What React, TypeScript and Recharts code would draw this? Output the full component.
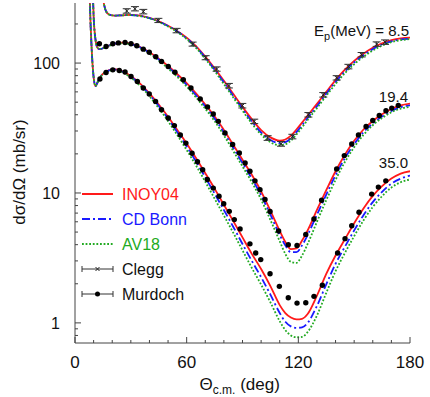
import React from 'react';
import { ComposedChart, Line, Scatter, ErrorBar, XAxis, YAxis } from 'recharts';

document.body.style.margin = '0';

const FONT = "'Liberation Sans', Arial, Helvetica, sans-serif";
const AXIS = '#444';
const RED = '#ff1a1a';
const BLUE = '#1a1aff';
const GREEN = '#22aa22';

// angle grid (deg) shared by the theory curves
const ANGLES = [7, 8, 9, 10, 11, 12, 13, 14, 15, 16, 17, 18, 20, 22, 25, 30, 35, 40, 45, 50, 55, 60, 65, 70, 75, 80, 85, 90, 95, 100, 105, 110, 113, 116, 119, 122, 125, 130, 135, 140, 145, 150, 155, 160, 165, 170, 175, 180];

// Ep = 8.5 MeV
const INOY_85 = [null, null, null, null, null, null, null, 650, 330, 268, 246, 238, 233, 232, 233, 235, 232, 223, 210, 194, 176, 157, 135, 112, 91, 73, 58, 46, 37, 30.5, 26.8, 25.3, 25.8, 27.6, 30.8, 34.8, 39.5, 48.5, 60, 74, 89, 104, 118, 131, 142, 150, 155, 157];
const CDB_85 = [null, null, null, null, null, null, null, 650, 330, 268, 246, 238, 233, 232, 233, 234, 231, 222, 209, 193, 175, 155, 133, 110, 89, 71, 56, 44.5, 35.5, 29.2, 25.6, 24.2, 24.6, 26.3, 29.4, 33.2, 37.8, 46.5, 58, 71.5, 86, 101, 115, 128, 139, 147, 152, 154];
const AV18_85 = [null, null, null, null, null, null, null, 650, 330, 268, 246, 238, 233, 232, 233, 234, 230, 221, 208, 191, 173, 153, 131, 108, 87, 69, 54.5, 43, 34.3, 28.2, 24.6, 23.3, 23.7, 25.3, 28.2, 32, 36.5, 45, 56, 69, 83.5, 98, 112, 125, 136, 145, 150, 153];

// Ep = 19.4 MeV
const INOY_194 = [null, null, 700, 230, 152, 132, 128, 128.5, 130, 132, 134, 136, 139, 141.5, 143.5, 141, 133, 121, 108, 95, 82, 70, 58.5, 48, 39, 30.5, 23.5, 18, 13.8, 10.3, 7.3, 5.1, 4.2, 3.7, 3.75, 4.3, 5.15, 7.4, 10.5, 14.7, 19.7, 25.2, 30.8, 35.8, 40.3, 44.3, 47.2, 48.7];
const CDB_194 = [null, null, 700, 230, 152, 132, 128, 128.5, 130, 132, 134, 136, 139, 141.5, 143, 140, 132, 120, 106.5, 93, 80, 68, 56.5, 46.3, 37.5, 29.2, 22.3, 17, 12.9, 9.6, 6.8, 4.75, 3.95, 3.5, 3.5, 3.95, 4.75, 6.8, 9.7, 13.7, 18.5, 23.8, 29.3, 34.3, 38.8, 42.8, 45.7, 47.2];
const AV18_194 = [null, null, 700, 230, 152, 132, 128, 128.5, 130, 131.5, 133, 135, 138, 140.5, 142, 139, 130.5, 118, 104.5, 91, 78, 66, 54.5, 44.5, 35.8, 27.8, 21.1, 16, 12.1, 8.9, 6.2, 4.25, 3.4, 2.95, 2.9, 3.3, 4.05, 6.0, 8.8, 12.6, 17.3, 22.5, 28, 33.2, 37.8, 41.8, 44.6, 46];

// Ep = 35.0 MeV
const INOY_350 = [1500, 290, 125, 78, 66.5, 70.5, 75.5, 79.5, 82.5, 84.8, 86.5, 87.8, 89.3, 89.5, 87.2, 79.5, 69.5, 58.5, 48, 38.6, 30.5, 24, 18.6, 14.2, 10.8, 8.1, 6.1, 4.55, 3.4, 2.6, 1.92, 1.37, 1.19, 1.1, 1.065, 1.075, 1.17, 1.62, 2.38, 3.3, 4.4, 5.85, 7.6, 9.5, 11.3, 12.9, 14.1, 14.7];
const CDB_350 = [1500, 290, 125, 78, 66.5, 70.5, 75.5, 79.5, 82.5, 84.5, 86.2, 87.4, 88.8, 89, 86.5, 78.5, 68.3, 57.2, 46.7, 37.3, 29.3, 22.8, 17.5, 13.2, 9.9, 7.4, 5.5, 4.05, 3.0, 2.25, 1.65, 1.19, 1.02, 0.94, 0.915, 0.925, 1.0, 1.35, 1.98, 2.85, 3.85, 5.15, 6.75, 8.5, 10.2, 11.8, 12.9, 13.6];
const AV18_350 = [1500, 290, 125, 78, 66.5, 70.3, 75, 79, 82, 84, 85.6, 86.8, 88, 88, 85.5, 77.2, 66.8, 55.6, 45, 35.7, 27.8, 21.4, 16.3, 12.2, 9.05, 6.7, 4.95, 3.62, 2.65, 1.97, 1.44, 1.03, 0.88, 0.8, 0.775, 0.78, 0.85, 1.14, 1.7, 2.5, 3.45, 4.65, 6.15, 7.8, 9.45, 11, 12.1, 12.7];

// Clegg, 8.5 MeV
const CLEGG_X = [27.8, 32.2, 36.7, 44.8, 54.6, 63.2, 70.2, 76.1, 82.7, 89.9, 96.3, 103.5, 110.7, 116.8, 125.4, 133.4, 140.6, 146.9, 154.0, 162.1, 166.6];
const CLEGG_Y = [252, 262, 249, 213, 178, 140, 110, 90, 67, 47, 35.6, 26.5, 23.9, 27.2, 40, 57, 77, 94, 116, 140, 145];
const CLEGG_ERR = [10, 10, 10, 8, 7, 5, 4, 3.5, 2.7, 1.9, 1.4, 1.1, 1.0, 1.1, 1.6, 2.3, 3, 3.8, 4.6, 5.6, 5.8];

// Murdoch, 19.4 MeV
const MUR194_X = [13.1, 16.7, 20.3, 23.3, 26.9, 30.1, 33.2, 36.7, 39.9, 43.4, 46.5, 50.1, 53.7, 58.2, 62.3, 67.3, 71.2, 74.3, 77.0, 80.6, 84.7, 88.3, 91.4, 94.0, 96.7, 99.4, 102.1, 104.8, 109.4, 114.6, 119.3, 124.0, 128.4, 132.5, 140.6, 144.7, 148.7, 152.3, 156.4, 160.0, 163.5, 167.1, 170.2, 173.7];
const MUR194_Y = [141, 134, 141, 143, 144, 141, 136, 128, 121, 112, 103, 94, 85, 74.5, 64.3, 53, 46, 40.5, 35.6, 29, 23.6, 20.3, 17, 14.7, 12.4, 10.6, 8.9, 7.2, 5.1, 4.0, 3.95, 4.8, 6.3, 8.8, 15.3, 19.4, 23.8, 28, 32.5, 36.1, 39.5, 43, 45, 47.2];

// Murdoch, 35.0 MeV
const MUR350_X = [13.4, 16.7, 20.3, 23.8, 26.9, 30.1, 33.5, 36.7, 39.9, 43.3, 46.5, 50.1, 53.4, 56.6, 59.6, 62.9, 65.8, 68.6, 71.1, 74.3, 77.4, 79.9, 82.9, 85.6, 88.7, 94.0, 97.1, 99.8, 104.8, 109.8, 114.6, 119.3, 124.0, 128.4, 132.9, 141.1, 145.1, 148.7, 152.6, 159.4, 163.0, 167.0];
const MUR350_Y = [75.4, 84.7, 88.7, 87.7, 85.3, 78.9, 72.2, 64.3, 57.8, 50.7, 43.8, 37.8, 33, 28, 24.2, 20.2, 17.4, 15.1, 12.7, 10.9, 9.43, 8.27, 7.22, 6.24, 5.29, 4.06, 3.45, 3.07, 2.39, 1.91, 1.56, 1.42, 1.43, 1.6, 1.95, 3.45, 4.45, 5.6, 7.1, 9.8, 11.1, 12.4];

const X_TICKS = [0, 10, 20, 30, 40, 50, 60, 70, 80, 90, 100, 110, 120, 130, 140, 150, 160, 170, 180];
const X_MAJOR = [0, 60, 120, 180];
const Y_TICKS = [0.8, 0.9, 1, 2, 3, 4, 5, 6, 7, 8, 9, 10, 20, 30, 40, 50, 60, 70, 80, 90, 100, 200];
const Y_MAJOR = [1, 10, 100];

const curves = ANGLES.map((x, i) => ({
  x,
  r85: INOY_85[i], b85: CDB_85[i], g85: AV18_85[i],
  r194: INOY_194[i], b194: CDB_194[i], g194: AV18_194[i],
  r350: INOY_350[i], b350: CDB_350[i], g350: AV18_350[i],
}));
const clegg = CLEGG_X.map((x, i) => ({ x, y: CLEGG_Y[i], err: CLEGG_ERR[i] }));
const murdoch194 = MUR194_X.map((x, i) => ({ x, y: MUR194_Y[i] }));
const murdoch350 = MUR350_X.map((x, i) => ({ x, y: MUR350_Y[i] }));

const BottomTick = (p: any) => {
  const major = X_MAJOR.includes(p.payload.value);
  return (
    <g>
      <line x1={p.x} x2={p.x} y1={p.y} y2={p.y - (major ? 6 : 3)} stroke={AXIS} />
      {major && (
        <text x={p.x} y={p.y + 25} textAnchor="middle" fontSize={17} fontFamily={FONT} fill="#111">
          {p.payload.value}
        </text>
      )}
    </g>
  );
};
const TopTick = (p: any) => {
  const major = X_MAJOR.includes(p.payload.value);
  return <line x1={p.x} x2={p.x} y1={p.y} y2={p.y + (major ? 6 : 3)} stroke={AXIS} />;
};
const LeftTick = (p: any) => {
  const major = Y_MAJOR.includes(p.payload.value);
  return (
    <g>
      <line x1={p.x} x2={p.x + (major ? 6 : 3)} y1={p.y} y2={p.y} stroke={AXIS} />
      {major && (
        <text x={p.x - 15} y={p.y + 5.7} textAnchor="end" fontSize={16} fontFamily={FONT} fill="#111">
          {p.payload.value}
        </text>
      )}
    </g>
  );
};
const RightTick = (p: any) => {
  const major = Y_MAJOR.includes(p.payload.value);
  return <line x1={p.x} x2={p.x - (major ? 6 : 3)} y1={p.y} y2={p.y} stroke={AXIS} />;
};

const cross = (p: any) => (
  <path
    d={`M${p.cx - 2},${p.cy - 2}L${p.cx + 2},${p.cy + 2}M${p.cx - 2},${p.cy + 2}L${p.cx + 2},${p.cy - 2}`}
    stroke="#222"
    strokeWidth={1}
  />
);
const dot = (p: any) => <circle cx={p.cx} cy={p.cy} r={2.7} fill="#000" />;

const xLabel = (props: any) => {
  const vb = props.viewBox;
  const cx = vb.x + vb.width / 2;
  return (
    <text x={cx - 43} y={vb.y + 47} fontSize={17} fontFamily={FONT} fill="#111">
      Θ
      <tspan fontSize={12} dy={4}>c.m.</tspan>
      <tspan dy={-4}> (deg)</tspan>
    </text>
  );
};
const yLabel = () => (
  <text x={25} y={172} transform="rotate(-90, 25, 172)" textAnchor="middle" fontSize={17} fontFamily={FONT} fill="#111">
    dσ/dΩ (mb/sr)
  </text>
);

const curveProps = { type: 'monotone' as const, dot: false, activeDot: false, isAnimationActive: false, strokeWidth: 1.8 };

function Overlay() {
  const rows = [
    { y: 194, label: 'INOY04', color: RED },
    { y: 219, label: 'CD Bonn', color: BLUE },
    { y: 244, label: 'AV18', color: GREEN },
    { y: 269, label: 'Clegg', color: '#111' },
    { y: 294, label: 'Murdoch', color: '#111' },
  ];
  return (
    <svg width={430} height={397} style={{ position: 'absolute', left: 0, top: 0, pointerEvents: 'none' }}>
      <line x1={82} x2={113} y1={194} y2={194} stroke={RED} strokeWidth={2} />
      <line x1={82} x2={113} y1={219} y2={219} stroke={BLUE} strokeWidth={2} strokeDasharray="8 3 2 3" />
      <line x1={82} x2={113} y1={244} y2={244} stroke={GREEN} strokeWidth={1.8} strokeDasharray="1.8 1.8" />
      {[269, 294].map((y) => (
        <g key={y} stroke="#333" strokeWidth={1}>
          <line x1={82} x2={113} y1={y} y2={y} />
          <line x1={82} x2={82} y1={y - 3} y2={y + 3} />
          <line x1={113} x2={113} y1={y - 3} y2={y + 3} />
        </g>
      ))}
      {cross({ cx: 97.5, cy: 269 })}
      <circle cx={97.5} cy={294} r={2.5} fill="#000" />
      {rows.map((r) => (
        <text key={r.label} x={122} y={r.y + 5.8} fontSize={16} fontFamily={FONT} fill={r.color}>
          {r.label}
        </text>
      ))}
      <text x={409} y={36} textAnchor="end" fontSize={15} fontFamily={FONT} fill="#111">
        E<tspan fontSize={11} dy={4}>p</tspan>
        <tspan dy={-4}>(MeV) = 8.5</tspan>
      </text>
      <text x={408} y={102} textAnchor="end" fontSize={15} fontFamily={FONT} fill="#111">19.4</text>
      <text x={408} y={168} textAnchor="end" fontSize={15} fontFamily={FONT} fill="#111">35.0</text>
    </svg>
  );
}

export default function App() {
  return (
    <div style={{ position: 'relative', width: 430, height: 397, background: '#fff' }}>
      <ComposedChart width={430} height={397} data={curves} margin={{ top: 3, right: 20, bottom: 0, left: 0 }}>
        <XAxis
          dataKey="x"
          type="number"
          domain={[0, 180]}
          allowDataOverflow
          ticks={X_TICKS}
          interval={0}
          tickSize={0}
          tickMargin={0}
          tickLine={false}
          tick={BottomTick}
          axisLine={{ stroke: AXIS }}
          height={54}
          label={{ content: xLabel }}
        />
        <XAxis
          xAxisId="top"
          orientation="top"
          type="number"
          domain={[0, 180]}
          allowDataOverflow
          ticks={X_TICKS}
          interval={0}
          tickSize={0}
          tickMargin={0}
          tickLine={false}
          tick={TopTick}
          axisLine={{ stroke: AXIS }}
          height={0}
        />
        <YAxis
          type="number"
          scale="log"
          domain={[0.7, 290]}
          allowDataOverflow
          ticks={Y_TICKS}
          interval={0}
          tickSize={0}
          tickMargin={0}
          tickLine={false}
          tick={LeftTick}
          axisLine={{ stroke: AXIS }}
          width={75}
          label={{ content: yLabel }}
        />
        <YAxis
          yAxisId="right"
          orientation="right"
          type="number"
          scale="log"
          domain={[0.7, 290]}
          allowDataOverflow
          ticks={Y_TICKS}
          interval={0}
          tickSize={0}
          tickMargin={0}
          tickLine={false}
          tick={RightTick}
          axisLine={{ stroke: AXIS }}
          width={0}
        />

        <Line dataKey="r85" stroke={RED} {...curveProps} />
        <Line dataKey="r194" stroke={RED} {...curveProps} />
        <Line dataKey="r350" stroke={RED} {...curveProps} />
        <Line dataKey="b85" stroke={BLUE} strokeDasharray="8 3 2 3" {...curveProps} />
        <Line dataKey="b194" stroke={BLUE} strokeDasharray="8 3 2 3" {...curveProps} />
        <Line dataKey="b350" stroke={BLUE} strokeDasharray="8 3 2 3" {...curveProps} />
        <Line dataKey="g85" stroke={GREEN} strokeDasharray="1.8 1.8" {...curveProps} />
        <Line dataKey="g194" stroke={GREEN} strokeDasharray="1.8 1.8" {...curveProps} />
        <Line dataKey="g350" stroke={GREEN} strokeDasharray="1.8 1.8" {...curveProps} />

        <Scatter data={clegg} dataKey="y" shape={cross} isAnimationActive={false}>
          <ErrorBar dataKey="err" direction="y" width={4} stroke="#333" strokeWidth={1} isAnimationActive={false} />
        </Scatter>
        <Scatter data={murdoch194} dataKey="y" shape={dot} isAnimationActive={false} />
        <Scatter data={murdoch350} dataKey="y" shape={dot} isAnimationActive={false} />
      </ComposedChart>
      <Overlay />
    </div>
  );
}
